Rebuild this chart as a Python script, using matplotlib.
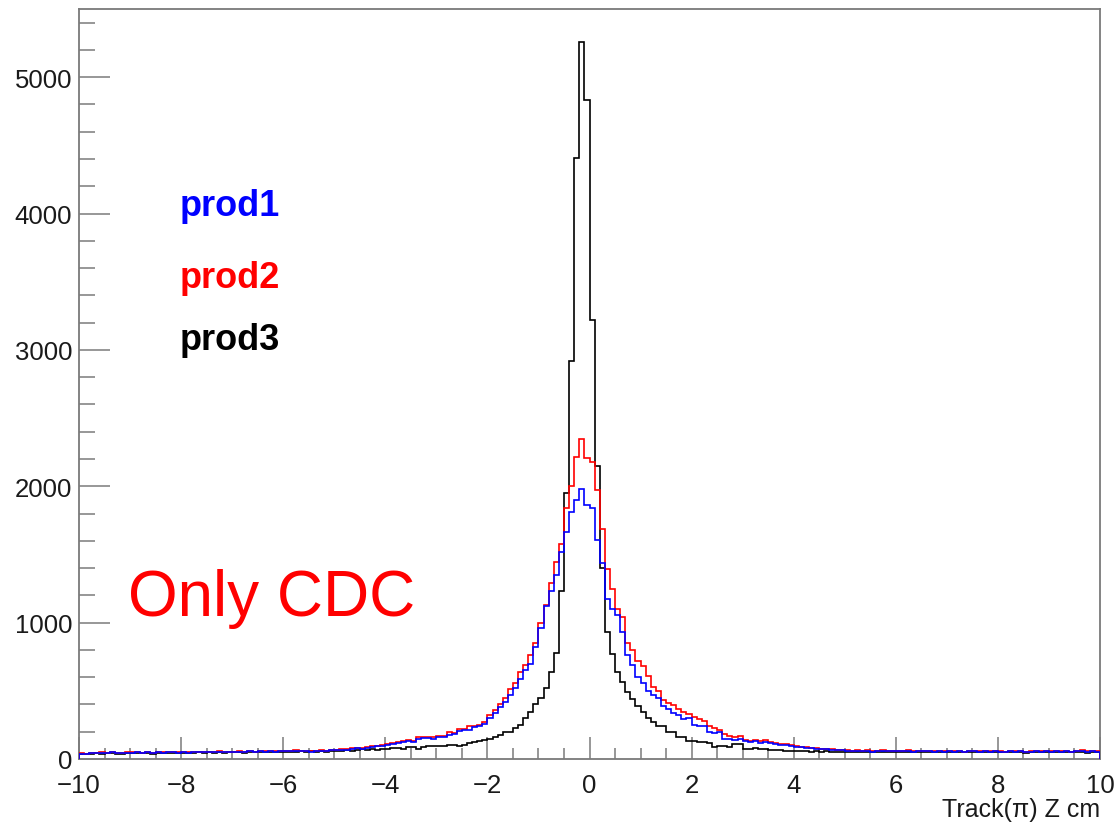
import numpy as np
import matplotlib
matplotlib.use("Agg")
import matplotlib.pyplot as plt
from matplotlib.ticker import MultipleLocator

# ---------------- data (200 bins of 0.1 cm from -10 to 10) ----------------
x_min, x_max, n_bins = -10.0, 10.0, 200

prod1 = [  # blue
    40, 36, 43, 42, 46, 44, 48, 45, 43, 47,
    46, 50, 45, 48, 44, 49, 47, 51, 48, 46,
    50, 47, 52, 49, 53, 48, 51, 54, 50, 53,
    52, 55, 51, 56, 53, 58, 55, 57, 54, 59,
    58, 56, 61, 57, 60, 55, 58, 62, 59, 63,
    65, 68, 66, 74, 78, 77, 84, 88, 92, 97,
    105, 112, 118, 128, 130, 128, 150, 155, 152, 150,
    162, 160, 178, 180, 205, 210, 215, 235, 240, 260,
    300, 340, 380, 420, 470, 520, 590, 650, 700, 820,
    960, 1120, 1230, 1348, 1520, 1667, 1815, 1900, 1980, 1860,
    1838, 1605, 1434, 1176, 1100, 1054, 930, 760, 690, 600,
    560, 500, 470, 450, 390, 370, 340, 320, 290, 300,
    250, 240, 245, 200, 190, 195, 150, 148, 140, 150,
    130, 128, 135, 120, 125, 118, 112, 105, 100, 95,
    88, 85, 80, 78, 75, 72, 70, 66, 65, 64,
    60, 58, 62, 57, 60, 55, 58, 61, 57, 59,
    56, 58, 60, 55, 57, 59, 56, 54, 57, 55,
    58, 54, 57, 52, 56, 58, 55, 59, 53, 57,
    55, 52, 58, 54, 57, 51, 55, 59, 54, 56,
    53, 57, 55, 59, 52, 56, 60, 54, 57, 55,
]

prod2 = [  # red
    42, 38, 45, 44, 48, 46, 50, 47, 45, 49,
    48, 52, 47, 50, 46, 51, 49, 53, 50, 48,
    52, 49, 54, 51, 55, 50, 53, 56, 52, 55,
    54, 57, 53, 58, 55, 60, 57, 59, 56, 61,
    60, 58, 63, 59, 62, 57, 60, 64, 61, 66,
    68, 72, 70, 78, 82, 80, 88, 92, 96, 100,
    110, 115, 125, 132, 138, 135, 158, 162, 165, 160,
    172, 168, 195, 192, 222, 218, 245, 242, 250, 272,
    320, 360, 400, 450, 510, 560, 640, 690, 760, 850,
    1000, 1130, 1290, 1446, 1580, 1840, 2000, 2218, 2350, 2210,
    2180, 1970, 1690, 1390, 1250, 1100, 1040, 850, 800, 720,
    680, 610, 530, 500, 430, 410, 395, 370, 345, 330,
    310, 295, 280, 240, 225, 215, 180, 172, 165, 168,
    140, 135, 142, 130, 138, 125, 120, 112, 108, 100,
    92, 88, 85, 80, 78, 76, 72, 70, 68, 66,
    64, 62, 65, 60, 63, 58, 61, 64, 60, 62,
    58, 61, 63, 57, 60, 62, 59, 56, 60, 58,
    62, 57, 60, 55, 59, 61, 58, 62, 56, 60,
    58, 55, 61, 57, 60, 54, 58, 62, 57, 59,
    56, 60, 58, 62, 55, 59, 63, 57, 60, 58,
]

prod3 = [  # black
    38, 40, 36, 42, 39, 41, 44, 40, 38, 43,
    42, 45, 41, 44, 40, 46, 43, 45, 42, 47,
    44, 47, 43, 48, 45, 49, 46, 50, 47, 48,
    48, 51, 47, 52, 49, 53, 50, 52, 49, 54,
    52, 55, 50, 56, 53, 57, 54, 58, 55, 59,
    60, 62, 65, 58, 66, 70, 64, 72, 68, 74,
    75, 78, 80, 72, 85, 88, 75, 90, 95, 92,
    98, 95, 105, 100, 98, 100, 118, 125, 135, 140,
    150, 160, 175, 195, 200, 225, 250, 300, 345, 400,
    450, 520, 640, 780, 1230, 1950, 2920, 4404, 5257, 4833,
    3223, 2150, 1400, 930, 770, 640, 564, 490, 441, 392,
    343, 300, 270, 245, 240, 200, 196, 165, 160, 135,
    135, 125, 122, 120, 90, 92, 95, 90, 110, 108,
    75, 72, 78, 70, 74, 68, 66, 64, 62, 60,
    58, 56, 59, 55, 57, 54, 56, 53, 55, 52,
    54, 51, 55, 52, 50, 53, 51, 54, 50, 52,
    51, 53, 49, 52, 50, 54, 51, 49, 52, 50,
    50, 52, 48, 51, 49, 53, 50, 52, 48, 51,
    49, 51, 48, 52, 50, 47, 51, 49, 52, 48,
    50, 48, 51, 49, 52, 48, 50, 47, 51, 49,
]

series_names = ["prod1", "prod2", "prod3"]
series_colors = ["#0000ff", "#ff0000", "#000000"]
x_label = "Track(\u03c0) Z cm"
annotation = "Only CDC"

# ---------------- figure ----------------
plt.rcParams['font.family'] = ['Liberation Sans', 'DejaVu Sans']

fig = plt.figure(figsize=(11.17, 8.28), dpi=100)
ax = fig.add_axes([79 / 1117, 68 / 828, (1100 - 79) / 1117, (760 - 10) / 828])

edges = np.linspace(x_min, x_max, n_bins + 1)
ax.stairs(prod3, edges, baseline=0, color=series_colors[2], lw=1.2, zorder=2)
ax.stairs(prod2, edges, baseline=0, color=series_colors[1], lw=1.2, zorder=3)
ax.stairs(prod1, edges, baseline=0, color=series_colors[0], lw=1.2, zorder=4)

ax.set_xlim(x_min, x_max)
ax.set_ylim(0, 5500)

ax.xaxis.set_major_locator(MultipleLocator(2))
ax.xaxis.set_minor_locator(MultipleLocator(0.5))
ax.yaxis.set_major_locator(MultipleLocator(1000))
ax.yaxis.set_minor_locator(MultipleLocator(200))

spine_col = "#7a7a7a"
for s in ax.spines.values():
    s.set_color(spine_col)
    s.set_linewidth(1.3)

ax.tick_params(axis='both', which='both', direction='in', color=spine_col,
               labelcolor='#1a1a1a', width=1.1, top=False, right=False)
ax.tick_params(axis='y', which='major', length=22, pad=5, labelsize=18.5)
ax.tick_params(axis='y', which='minor', length=11.5)
ax.tick_params(axis='x', which='major', length=16, pad=10, labelsize=18.5)
ax.tick_params(axis='x', which='minor', length=8)

# x-axis title (right aligned, below tick labels)
fig.text(1100 / 1117, (828 - 817) / 828, x_label, ha='right', va='baseline',
         fontsize=18, color='#1a1a1a')

# legend-like labels
label_y = [216, 288, 350]
for name, col, yb in zip(series_names, series_colors, label_y):
    fig.text(180 / 1117, (828 - yb) / 828, name, color=col, fontsize=26,
             fontweight='bold', ha='left', va='baseline')

fig.text(128 / 1117, (828 - 616) / 828, annotation, color='#ff0000',
         fontsize=46, ha='left', va='baseline')

fig.savefig("out.png", dpi=100)
